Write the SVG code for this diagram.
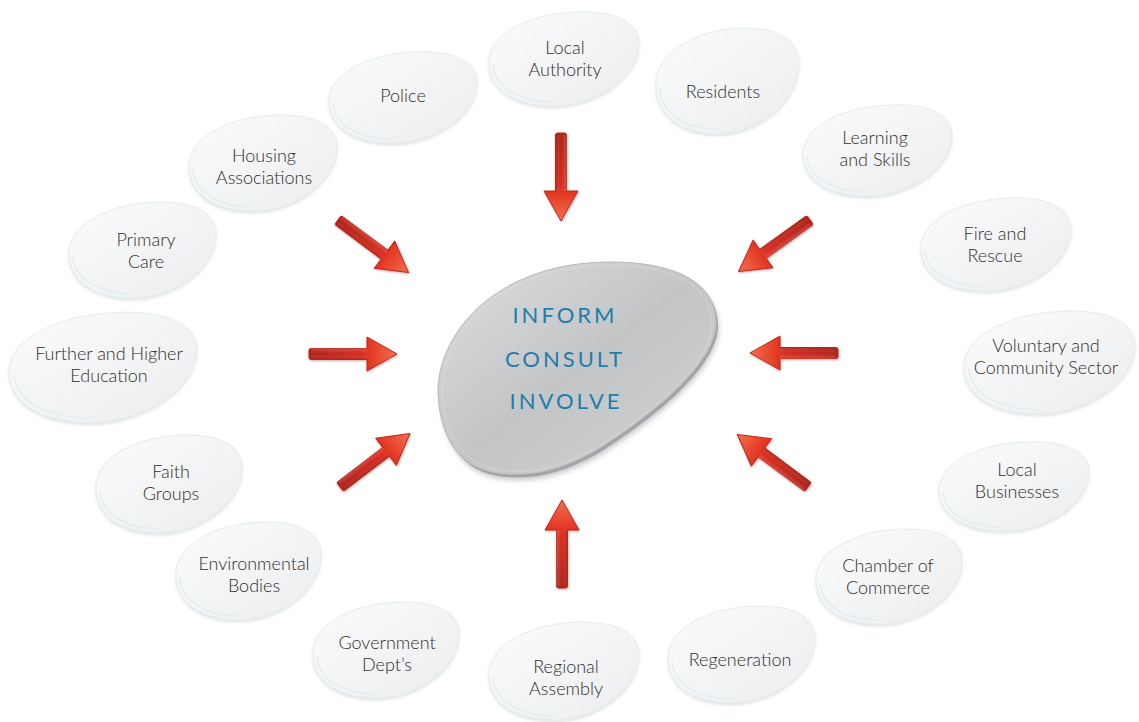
<svg xmlns="http://www.w3.org/2000/svg" xmlns:xlink="http://www.w3.org/1999/xlink" width="1139" height="722" viewBox="0 0 1139 722">
<defs>
  <linearGradient id="pebbleFill" x1="0" y1="0" x2="1" y2="1">
    <stop offset="0" stop-color="#fbfcfc"/>
    <stop offset="0.55" stop-color="#f2f3f4"/>
    <stop offset="1" stop-color="#ebedee"/>
  </linearGradient>
  <linearGradient id="centerFill" x1="0" y1="0" x2="1" y2="1">
    <stop offset="0" stop-color="#dcdddf"/>
    <stop offset="0.5" stop-color="#c4c5c7"/>
    <stop offset="1" stop-color="#d0d1d3"/>
  </linearGradient>
  <linearGradient id="arrowFill" x1="0" y1="0" x2="88" y2="0" gradientUnits="userSpaceOnUse">
    <stop offset="0" stop-color="#ad2219"/>
    <stop offset="0.6" stop-color="#d82a1e"/>
    <stop offset="0.7" stop-color="#e33a26"/>
    <stop offset="1" stop-color="#f2714f"/>
  </linearGradient>
  <linearGradient id="shaftShade" x1="0" y1="-6" x2="0" y2="6" gradientUnits="userSpaceOnUse">
    <stop offset="0" stop-color="#ffffff" stop-opacity="0.18"/>
    <stop offset="0.5" stop-color="#ffffff" stop-opacity="0"/>
    <stop offset="1" stop-color="#5a0a05" stop-opacity="0.25"/>
  </linearGradient>
  <filter id="pebbleShadow" x="-10%" y="-10%" width="120%" height="130%">
    <feDropShadow dx="0" dy="2" stdDeviation="1.6" flood-color="#9aa4aa" flood-opacity="0.3"/>
  </filter>
  <filter id="centerShadow" x="-10%" y="-10%" width="120%" height="130%">
    <feDropShadow dx="1" dy="3" stdDeviation="2.5" flood-color="#7d8185" flood-opacity="0.4"/>
  </filter>
  <filter id="arrowShadow" x="-20%" y="-40%" width="140%" height="180%">
    <feDropShadow dx="0.5" dy="1" stdDeviation="0.8" flood-color="#6b0f08" flood-opacity="0.35"/>
  </filter>
  <symbol id="pebble" viewBox="0 0 150 100" preserveAspectRatio="none" overflow="visible">
    <path d="M 1,52 C 3,22 45,3 90,2 C 125,1 150,12 149,35 C 148,70 105,98 65,98 C 25,98 0,80 1,52 Z" fill="url(#pebbleFill)" stroke="#e7eced" stroke-width="1" vector-effect="non-scaling-stroke"/>
    <path d="M 5,56 C 6,78 28,93 64,94" fill="none" stroke="#e3eef2" stroke-width="1.5" vector-effect="non-scaling-stroke"/>
  </symbol>
  <g id="arrow">
    <path d="M 2,-5.5 L 58,-5.5 L 58,-17 L 88,0 L 58,17 L 58,5.5 L 2,5.5 Q 0,5.5 0,3.5 L 0,-3.5 Q 0,-5.5 2,-5.5 Z" fill="url(#arrowFill)" stroke="#c1281c" stroke-width="1" stroke-linejoin="round"/>
    <path d="M 2,-5.5 L 58,-5.5 L 58,5.5 L 2,5.5 Z" fill="url(#shaftShade)"/>
  </g>
</defs>
<style>
  .lbl { font-family: "Lato", "Liberation Sans", sans-serif; font-weight: 300; font-size: 18px; fill: #2f2f2f; text-anchor: middle; }
  .ctr { font-family: "Lato", "Liberation Sans", sans-serif; font-size: 22px; fill: #1e7eab; text-anchor: middle; letter-spacing: 3px; }
  .peb { filter: url(#pebbleShadow); }
</style>
<rect width="1139" height="722" fill="#ffffff"/>

<g id="center">
  <path d="M 438,392 C 438,330 500,262 610,262 C 690,262 718,292 716,325 C 714,362 660,410 600,448 C 560,472 530,476 505,474 C 470,472 440,450 438,392 Z" transform="translate(2 3)" fill="#a2a5a8" filter="url(#centerShadow)"/>
  <path d="M 438,392 C 438,330 500,262 610,262 C 690,262 718,292 716,325 C 714,362 660,410 600,448 C 560,472 530,476 505,474 C 470,472 440,450 438,392 Z" fill="url(#centerFill)" stroke="#b6b8ba" stroke-width="1"/>
  <path d="M 438,392 C 438,330 500,262 610,262 C 690,262 718,292 716,325 C 714,362 660,410 600,448 C 560,472 530,476 505,474 C 470,472 440,450 438,392 Z" transform="translate(577 368) scale(0.97) translate(-577 -368)" fill="none" stroke="#e2e3e4" stroke-width="0.8" stroke-opacity="0.55"/>
  <text class="ctr" x="565" y="323">INFORM</text>
  <text class="ctr" x="565" y="367">CONSULT</text>
  <text class="ctr" x="566" y="409">INVOLVE</text>
</g>

<g id="node-local-authority"><use href="#pebble" class="peb" x="488" y="10" width="152" height="98"/><text class="lbl" x="565" y="54">Local</text><text class="lbl" x="565" y="76">Authority</text></g>
<g id="node-police"><use href="#pebble" class="peb" x="328" y="50" width="150" height="95"/><text class="lbl" x="403" y="102">Police</text></g>
<g id="node-residents"><use href="#pebble" class="peb" x="655" y="26" width="145" height="110"/><text class="lbl" x="723" y="98">Residents</text></g>
<g id="node-housing"><use href="#pebble" class="peb" x="188" y="113" width="150" height="100"/><text class="lbl" x="264" y="162">Housing</text><text class="lbl" x="264" y="184">Associations</text></g>
<g id="node-learning"><use href="#pebble" class="peb" x="802" y="103" width="151" height="95"/><text class="lbl" x="875" y="144">Learning</text><text class="lbl" x="875" y="166">and Skills</text></g>
<g id="node-primary-care"><use href="#pebble" class="peb" x="68" y="200" width="149" height="100"/><text class="lbl" x="146" y="246">Primary</text><text class="lbl" x="146" y="268">Care</text></g>
<g id="node-fire"><use href="#pebble" class="peb" x="920" y="196" width="152" height="97"/><text class="lbl" x="995" y="240">Fire and</text><text class="lbl" x="995" y="262">Rescue</text></g>
<g id="node-further"><use href="#pebble" class="peb" x="8" y="310" width="190" height="115"/><text class="lbl" x="109" y="360">Further and Higher</text><text class="lbl" x="109" y="382">Education</text></g>
<g id="node-voluntary"><use href="#pebble" class="peb" x="963" y="309" width="173" height="107"/><text class="lbl" x="1046" y="352">Voluntary and</text><text class="lbl" x="1046" y="374">Community Sector</text></g>
<g id="node-faith"><use href="#pebble" class="peb" x="95" y="433" width="148" height="102"/><text class="lbl" x="171" y="478">Faith</text><text class="lbl" x="171" y="500">Groups</text></g>
<g id="node-local-businesses"><use href="#pebble" class="peb" x="938" y="440" width="152" height="93"/><text class="lbl" x="1017" y="476">Local</text><text class="lbl" x="1017" y="498">Businesses</text></g>
<g id="node-environmental"><use href="#pebble" class="peb" x="175" y="520" width="147" height="102"/><text class="lbl" x="254" y="570">Environmental</text><text class="lbl" x="254" y="592">Bodies</text></g>
<g id="node-chamber"><use href="#pebble" class="peb" x="815" y="527" width="148" height="99"/><text class="lbl" x="888" y="572">Chamber of</text><text class="lbl" x="888" y="594">Commerce</text></g>
<g id="node-government"><use href="#pebble" class="peb" x="312" y="600" width="148" height="100"/><text class="lbl" x="387" y="649">Government</text><text class="lbl" x="387" y="671">Dept’s</text></g>
<g id="node-regional"><use href="#pebble" class="peb" x="488" y="620" width="152" height="102"/><text class="lbl" x="566" y="673">Regional</text><text class="lbl" x="566" y="695">Assembly</text></g>
<g id="node-regeneration"><use href="#pebble" class="peb" x="667" y="604" width="149" height="101"/><text class="lbl" x="740" y="666">Regeneration</text></g>

<g id="connectors" filter="url(#arrowShadow)">
  <use href="#arrow" transform="translate(561 133) rotate(90)"/>
  <use href="#arrow" transform="translate(562 588) rotate(-90)"/>
  <use href="#arrow" transform="translate(309 354) rotate(0)"/>
  <use href="#arrow" transform="translate(838 353) rotate(180)"/>
  <use href="#arrow" transform="translate(338 220) rotate(36.7)"/>
  <use href="#arrow" transform="translate(810 220) rotate(144.2)"/>
  <use href="#arrow" transform="translate(340 487) rotate(-37.4)"/>
  <use href="#arrow" transform="translate(808 487) rotate(216.6)"/>
</g>
</svg>
